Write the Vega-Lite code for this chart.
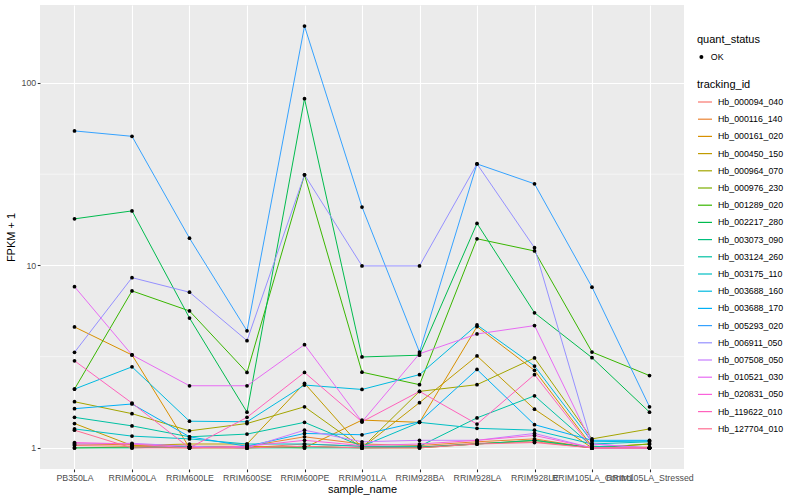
{
"$schema": "https://vega.github.io/schema/vega-lite/v6.json",
"width": 644, "height": 464,
"autosize": {"type": "none"},
"padding": {"left": 40, "top": 5, "right": 116, "bottom": 31},
"background": "white",
"config": {
  "view": {"fill": "#EBEBEB", "stroke": null},
  "font": "Liberation Sans",
  "axis": {"domain": false, "gridColor": "white", "gridWidth": 1.1, "tickColor": "#333333", "tickSize": 2.75, "tickWidth": 1.07, "labelColor": "#4D4D4D", "labelFontSize": 8.8, "labelPadding": 1.5, "titleFontSize": 11, "titleFontWeight": "normal", "titleColor": "black"},
  "legend": {"titleFontSize": 11, "titleFontWeight": "normal", "titleColor": "black", "labelFontSize": 8.8, "labelColor": "black", "padding": 0, "labelOffset": 5}
},
"datasets": {"minor": [{"value": 3.1623}, {"value": 31.623}]},
"data": {"values": [
{"tracking_id":"Hb_000094_040","sample_name":"PB350LA","value":1.03,"quant_status":"OK"},
{"tracking_id":"Hb_000094_040","sample_name":"RRIM600LA","value":1.02,"quant_status":"OK"},
{"tracking_id":"Hb_000094_040","sample_name":"RRIM600LE","value":1.01,"quant_status":"OK"},
{"tracking_id":"Hb_000094_040","sample_name":"RRIM600SE","value":1.0,"quant_status":"OK"},
{"tracking_id":"Hb_000094_040","sample_name":"RRIM600PE","value":1.05,"quant_status":"OK"},
{"tracking_id":"Hb_000094_040","sample_name":"RRIM901LA","value":1.02,"quant_status":"OK"},
{"tracking_id":"Hb_000094_040","sample_name":"RRIM928BA","value":1.01,"quant_status":"OK"},
{"tracking_id":"Hb_000094_040","sample_name":"RRIM928LA","value":1.06,"quant_status":"OK"},
{"tracking_id":"Hb_000094_040","sample_name":"RRIM928LE","value":1.08,"quant_status":"OK"},
{"tracking_id":"Hb_000094_040","sample_name":"RRIM105LA_Control","value":1.0,"quant_status":"OK"},
{"tracking_id":"Hb_000094_040","sample_name":"RRIM105LA_Stressed","value":1.0,"quant_status":"OK"},
{"tracking_id":"Hb_000116_140","sample_name":"PB350LA","value":1.05,"quant_status":"OK"},
{"tracking_id":"Hb_000116_140","sample_name":"RRIM600LA","value":1.04,"quant_status":"OK"},
{"tracking_id":"Hb_000116_140","sample_name":"RRIM600LE","value":1.02,"quant_status":"OK"},
{"tracking_id":"Hb_000116_140","sample_name":"RRIM600SE","value":1.02,"quant_status":"OK"},
{"tracking_id":"Hb_000116_140","sample_name":"RRIM600PE","value":1.15,"quant_status":"OK"},
{"tracking_id":"Hb_000116_140","sample_name":"RRIM901LA","value":1.05,"quant_status":"OK"},
{"tracking_id":"Hb_000116_140","sample_name":"RRIM928BA","value":1.03,"quant_status":"OK"},
{"tracking_id":"Hb_000116_140","sample_name":"RRIM928LA","value":1.08,"quant_status":"OK"},
{"tracking_id":"Hb_000116_140","sample_name":"RRIM928LE","value":1.12,"quant_status":"OK"},
{"tracking_id":"Hb_000116_140","sample_name":"RRIM105LA_Control","value":1.0,"quant_status":"OK"},
{"tracking_id":"Hb_000116_140","sample_name":"RRIM105LA_Stressed","value":1.01,"quant_status":"OK"},
{"tracking_id":"Hb_000161_020","sample_name":"PB350LA","value":4.6,"quant_status":"OK"},
{"tracking_id":"Hb_000161_020","sample_name":"RRIM600LA","value":3.23,"quant_status":"OK"},
{"tracking_id":"Hb_000161_020","sample_name":"RRIM600LE","value":1.0,"quant_status":"OK"},
{"tracking_id":"Hb_000161_020","sample_name":"RRIM600SE","value":1.02,"quant_status":"OK"},
{"tracking_id":"Hb_000161_020","sample_name":"RRIM600PE","value":1.0,"quant_status":"OK"},
{"tracking_id":"Hb_000161_020","sample_name":"RRIM901LA","value":1.42,"quant_status":"OK"},
{"tracking_id":"Hb_000161_020","sample_name":"RRIM928BA","value":1.38,"quant_status":"OK"},
{"tracking_id":"Hb_000161_020","sample_name":"RRIM928LA","value":4.62,"quant_status":"OK"},
{"tracking_id":"Hb_000161_020","sample_name":"RRIM928LE","value":2.66,"quant_status":"OK"},
{"tracking_id":"Hb_000161_020","sample_name":"RRIM105LA_Control","value":1.02,"quant_status":"OK"},
{"tracking_id":"Hb_000161_020","sample_name":"RRIM105LA_Stressed","value":1.0,"quant_status":"OK"},
{"tracking_id":"Hb_000450_150","sample_name":"PB350LA","value":1.36,"quant_status":"OK"},
{"tracking_id":"Hb_000450_150","sample_name":"RRIM600LA","value":1.03,"quant_status":"OK"},
{"tracking_id":"Hb_000450_150","sample_name":"RRIM600LE","value":1.05,"quant_status":"OK"},
{"tracking_id":"Hb_000450_150","sample_name":"RRIM600SE","value":1.05,"quant_status":"OK"},
{"tracking_id":"Hb_000450_150","sample_name":"RRIM600PE","value":2.26,"quant_status":"OK"},
{"tracking_id":"Hb_000450_150","sample_name":"RRIM901LA","value":1.0,"quant_status":"OK"},
{"tracking_id":"Hb_000450_150","sample_name":"RRIM928BA","value":1.77,"quant_status":"OK"},
{"tracking_id":"Hb_000450_150","sample_name":"RRIM928LA","value":3.19,"quant_status":"OK"},
{"tracking_id":"Hb_000450_150","sample_name":"RRIM928LE","value":1.63,"quant_status":"OK"},
{"tracking_id":"Hb_000450_150","sample_name":"RRIM105LA_Control","value":1.0,"quant_status":"OK"},
{"tracking_id":"Hb_000450_150","sample_name":"RRIM105LA_Stressed","value":1.05,"quant_status":"OK"},
{"tracking_id":"Hb_000964_070","sample_name":"PB350LA","value":1.79,"quant_status":"OK"},
{"tracking_id":"Hb_000964_070","sample_name":"RRIM600LA","value":1.54,"quant_status":"OK"},
{"tracking_id":"Hb_000964_070","sample_name":"RRIM600LE","value":1.24,"quant_status":"OK"},
{"tracking_id":"Hb_000964_070","sample_name":"RRIM600SE","value":1.36,"quant_status":"OK"},
{"tracking_id":"Hb_000964_070","sample_name":"RRIM600PE","value":1.68,"quant_status":"OK"},
{"tracking_id":"Hb_000964_070","sample_name":"RRIM901LA","value":1.0,"quant_status":"OK"},
{"tracking_id":"Hb_000964_070","sample_name":"RRIM928BA","value":2.04,"quant_status":"OK"},
{"tracking_id":"Hb_000964_070","sample_name":"RRIM928LA","value":2.22,"quant_status":"OK"},
{"tracking_id":"Hb_000964_070","sample_name":"RRIM928LE","value":3.11,"quant_status":"OK"},
{"tracking_id":"Hb_000964_070","sample_name":"RRIM105LA_Control","value":1.12,"quant_status":"OK"},
{"tracking_id":"Hb_000964_070","sample_name":"RRIM105LA_Stressed","value":1.27,"quant_status":"OK"},
{"tracking_id":"Hb_000976_230","sample_name":"PB350LA","value":1.0,"quant_status":"OK"},
{"tracking_id":"Hb_000976_230","sample_name":"RRIM600LA","value":1.01,"quant_status":"OK"},
{"tracking_id":"Hb_000976_230","sample_name":"RRIM600LE","value":1.0,"quant_status":"OK"},
{"tracking_id":"Hb_000976_230","sample_name":"RRIM600SE","value":1.0,"quant_status":"OK"},
{"tracking_id":"Hb_000976_230","sample_name":"RRIM600PE","value":1.02,"quant_status":"OK"},
{"tracking_id":"Hb_000976_230","sample_name":"RRIM901LA","value":1.0,"quant_status":"OK"},
{"tracking_id":"Hb_000976_230","sample_name":"RRIM928BA","value":1.0,"quant_status":"OK"},
{"tracking_id":"Hb_000976_230","sample_name":"RRIM928LA","value":1.05,"quant_status":"OK"},
{"tracking_id":"Hb_000976_230","sample_name":"RRIM928LE","value":1.1,"quant_status":"OK"},
{"tracking_id":"Hb_000976_230","sample_name":"RRIM105LA_Control","value":1.0,"quant_status":"OK"},
{"tracking_id":"Hb_000976_230","sample_name":"RRIM105LA_Stressed","value":1.05,"quant_status":"OK"},
{"tracking_id":"Hb_001289_020","sample_name":"PB350LA","value":2.1,"quant_status":"OK"},
{"tracking_id":"Hb_001289_020","sample_name":"RRIM600LA","value":7.25,"quant_status":"OK"},
{"tracking_id":"Hb_001289_020","sample_name":"RRIM600LE","value":5.63,"quant_status":"OK"},
{"tracking_id":"Hb_001289_020","sample_name":"RRIM600SE","value":2.59,"quant_status":"OK"},
{"tracking_id":"Hb_001289_020","sample_name":"RRIM600PE","value":31.4,"quant_status":"OK"},
{"tracking_id":"Hb_001289_020","sample_name":"RRIM901LA","value":2.6,"quant_status":"OK"},
{"tracking_id":"Hb_001289_020","sample_name":"RRIM928BA","value":2.22,"quant_status":"OK"},
{"tracking_id":"Hb_001289_020","sample_name":"RRIM928LA","value":14,"quant_status":"OK"},
{"tracking_id":"Hb_001289_020","sample_name":"RRIM928LE","value":12,"quant_status":"OK"},
{"tracking_id":"Hb_001289_020","sample_name":"RRIM105LA_Control","value":3.35,"quant_status":"OK"},
{"tracking_id":"Hb_001289_020","sample_name":"RRIM105LA_Stressed","value":2.49,"quant_status":"OK"},
{"tracking_id":"Hb_002217_280","sample_name":"PB350LA","value":18,"quant_status":"OK"},
{"tracking_id":"Hb_002217_280","sample_name":"RRIM600LA","value":19.9,"quant_status":"OK"},
{"tracking_id":"Hb_002217_280","sample_name":"RRIM600LE","value":5.15,"quant_status":"OK"},
{"tracking_id":"Hb_002217_280","sample_name":"RRIM600SE","value":1.57,"quant_status":"OK"},
{"tracking_id":"Hb_002217_280","sample_name":"RRIM600PE","value":82,"quant_status":"OK"},
{"tracking_id":"Hb_002217_280","sample_name":"RRIM901LA","value":3.15,"quant_status":"OK"},
{"tracking_id":"Hb_002217_280","sample_name":"RRIM928BA","value":3.22,"quant_status":"OK"},
{"tracking_id":"Hb_002217_280","sample_name":"RRIM928LA","value":17,"quant_status":"OK"},
{"tracking_id":"Hb_002217_280","sample_name":"RRIM928LE","value":5.5,"quant_status":"OK"},
{"tracking_id":"Hb_002217_280","sample_name":"RRIM105LA_Control","value":3.12,"quant_status":"OK"},
{"tracking_id":"Hb_002217_280","sample_name":"RRIM105LA_Stressed","value":1.57,"quant_status":"OK"},
{"tracking_id":"Hb_003073_090","sample_name":"PB350LA","value":1.0,"quant_status":"OK"},
{"tracking_id":"Hb_003073_090","sample_name":"RRIM600LA","value":1.0,"quant_status":"OK"},
{"tracking_id":"Hb_003073_090","sample_name":"RRIM600LE","value":1.02,"quant_status":"OK"},
{"tracking_id":"Hb_003073_090","sample_name":"RRIM600SE","value":1.0,"quant_status":"OK"},
{"tracking_id":"Hb_003073_090","sample_name":"RRIM600PE","value":1.0,"quant_status":"OK"},
{"tracking_id":"Hb_003073_090","sample_name":"RRIM901LA","value":1.0,"quant_status":"OK"},
{"tracking_id":"Hb_003073_090","sample_name":"RRIM928BA","value":1.01,"quant_status":"OK"},
{"tracking_id":"Hb_003073_090","sample_name":"RRIM928LA","value":1.05,"quant_status":"OK"},
{"tracking_id":"Hb_003073_090","sample_name":"RRIM928LE","value":1.1,"quant_status":"OK"},
{"tracking_id":"Hb_003073_090","sample_name":"RRIM105LA_Control","value":1.0,"quant_status":"OK"},
{"tracking_id":"Hb_003073_090","sample_name":"RRIM105LA_Stressed","value":1.0,"quant_status":"OK"},
{"tracking_id":"Hb_003124_260","sample_name":"PB350LA","value":1.47,"quant_status":"OK"},
{"tracking_id":"Hb_003124_260","sample_name":"RRIM600LA","value":1.32,"quant_status":"OK"},
{"tracking_id":"Hb_003124_260","sample_name":"RRIM600LE","value":1.15,"quant_status":"OK"},
{"tracking_id":"Hb_003124_260","sample_name":"RRIM600SE","value":1.19,"quant_status":"OK"},
{"tracking_id":"Hb_003124_260","sample_name":"RRIM600PE","value":1.38,"quant_status":"OK"},
{"tracking_id":"Hb_003124_260","sample_name":"RRIM901LA","value":1.02,"quant_status":"OK"},
{"tracking_id":"Hb_003124_260","sample_name":"RRIM928BA","value":1.02,"quant_status":"OK"},
{"tracking_id":"Hb_003124_260","sample_name":"RRIM928LA","value":1.46,"quant_status":"OK"},
{"tracking_id":"Hb_003124_260","sample_name":"RRIM928LE","value":1.93,"quant_status":"OK"},
{"tracking_id":"Hb_003124_260","sample_name":"RRIM105LA_Control","value":1.02,"quant_status":"OK"},
{"tracking_id":"Hb_003124_260","sample_name":"RRIM105LA_Stressed","value":1.0,"quant_status":"OK"},
{"tracking_id":"Hb_003175_110","sample_name":"PB350LA","value":1.27,"quant_status":"OK"},
{"tracking_id":"Hb_003175_110","sample_name":"RRIM600LA","value":1.16,"quant_status":"OK"},
{"tracking_id":"Hb_003175_110","sample_name":"RRIM600LE","value":1.12,"quant_status":"OK"},
{"tracking_id":"Hb_003175_110","sample_name":"RRIM600SE","value":1.05,"quant_status":"OK"},
{"tracking_id":"Hb_003175_110","sample_name":"RRIM600PE","value":1.05,"quant_status":"OK"},
{"tracking_id":"Hb_003175_110","sample_name":"RRIM901LA","value":1.02,"quant_status":"OK"},
{"tracking_id":"Hb_003175_110","sample_name":"RRIM928BA","value":1.38,"quant_status":"OK"},
{"tracking_id":"Hb_003175_110","sample_name":"RRIM928LA","value":1.28,"quant_status":"OK"},
{"tracking_id":"Hb_003175_110","sample_name":"RRIM928LE","value":1.25,"quant_status":"OK"},
{"tracking_id":"Hb_003175_110","sample_name":"RRIM105LA_Control","value":1.05,"quant_status":"OK"},
{"tracking_id":"Hb_003175_110","sample_name":"RRIM105LA_Stressed","value":1.08,"quant_status":"OK"},
{"tracking_id":"Hb_003688_160","sample_name":"PB350LA","value":2.1,"quant_status":"OK"},
{"tracking_id":"Hb_003688_160","sample_name":"RRIM600LA","value":2.78,"quant_status":"OK"},
{"tracking_id":"Hb_003688_160","sample_name":"RRIM600LE","value":1.4,"quant_status":"OK"},
{"tracking_id":"Hb_003688_160","sample_name":"RRIM600SE","value":1.39,"quant_status":"OK"},
{"tracking_id":"Hb_003688_160","sample_name":"RRIM600PE","value":2.21,"quant_status":"OK"},
{"tracking_id":"Hb_003688_160","sample_name":"RRIM901LA","value":2.09,"quant_status":"OK"},
{"tracking_id":"Hb_003688_160","sample_name":"RRIM928BA","value":2.52,"quant_status":"OK"},
{"tracking_id":"Hb_003688_160","sample_name":"RRIM928LA","value":4.72,"quant_status":"OK"},
{"tracking_id":"Hb_003688_160","sample_name":"RRIM928LE","value":2.81,"quant_status":"OK"},
{"tracking_id":"Hb_003688_160","sample_name":"RRIM105LA_Control","value":1.08,"quant_status":"OK"},
{"tracking_id":"Hb_003688_160","sample_name":"RRIM105LA_Stressed","value":1.09,"quant_status":"OK"},
{"tracking_id":"Hb_003688_170","sample_name":"PB350LA","value":1.64,"quant_status":"OK"},
{"tracking_id":"Hb_003688_170","sample_name":"RRIM600LA","value":1.74,"quant_status":"OK"},
{"tracking_id":"Hb_003688_170","sample_name":"RRIM600LE","value":1.15,"quant_status":"OK"},
{"tracking_id":"Hb_003688_170","sample_name":"RRIM600SE","value":1.02,"quant_status":"OK"},
{"tracking_id":"Hb_003688_170","sample_name":"RRIM600PE","value":1.2,"quant_status":"OK"},
{"tracking_id":"Hb_003688_170","sample_name":"RRIM901LA","value":1.18,"quant_status":"OK"},
{"tracking_id":"Hb_003688_170","sample_name":"RRIM928BA","value":1.39,"quant_status":"OK"},
{"tracking_id":"Hb_003688_170","sample_name":"RRIM928LA","value":2.69,"quant_status":"OK"},
{"tracking_id":"Hb_003688_170","sample_name":"RRIM928LE","value":1.34,"quant_status":"OK"},
{"tracking_id":"Hb_003688_170","sample_name":"RRIM105LA_Control","value":1.1,"quant_status":"OK"},
{"tracking_id":"Hb_003688_170","sample_name":"RRIM105LA_Stressed","value":1.1,"quant_status":"OK"},
{"tracking_id":"Hb_005293_020","sample_name":"PB350LA","value":54.6,"quant_status":"OK"},
{"tracking_id":"Hb_005293_020","sample_name":"RRIM600LA","value":51,"quant_status":"OK"},
{"tracking_id":"Hb_005293_020","sample_name":"RRIM600LE","value":14.1,"quant_status":"OK"},
{"tracking_id":"Hb_005293_020","sample_name":"RRIM600SE","value":4.38,"quant_status":"OK"},
{"tracking_id":"Hb_005293_020","sample_name":"RRIM600PE","value":205,"quant_status":"OK"},
{"tracking_id":"Hb_005293_020","sample_name":"RRIM901LA","value":20.9,"quant_status":"OK"},
{"tracking_id":"Hb_005293_020","sample_name":"RRIM928BA","value":3.35,"quant_status":"OK"},
{"tracking_id":"Hb_005293_020","sample_name":"RRIM928LA","value":36,"quant_status":"OK"},
{"tracking_id":"Hb_005293_020","sample_name":"RRIM928LE","value":28,"quant_status":"OK"},
{"tracking_id":"Hb_005293_020","sample_name":"RRIM105LA_Control","value":7.6,"quant_status":"OK"},
{"tracking_id":"Hb_005293_020","sample_name":"RRIM105LA_Stressed","value":1.68,"quant_status":"OK"},
{"tracking_id":"Hb_006911_050","sample_name":"PB350LA","value":3.34,"quant_status":"OK"},
{"tracking_id":"Hb_006911_050","sample_name":"RRIM600LA","value":8.57,"quant_status":"OK"},
{"tracking_id":"Hb_006911_050","sample_name":"RRIM600LE","value":7.13,"quant_status":"OK"},
{"tracking_id":"Hb_006911_050","sample_name":"RRIM600SE","value":3.87,"quant_status":"OK"},
{"tracking_id":"Hb_006911_050","sample_name":"RRIM600PE","value":31.4,"quant_status":"OK"},
{"tracking_id":"Hb_006911_050","sample_name":"RRIM901LA","value":9.94,"quant_status":"OK"},
{"tracking_id":"Hb_006911_050","sample_name":"RRIM928BA","value":9.94,"quant_status":"OK"},
{"tracking_id":"Hb_006911_050","sample_name":"RRIM928LA","value":36,"quant_status":"OK"},
{"tracking_id":"Hb_006911_050","sample_name":"RRIM928LE","value":12.5,"quant_status":"OK"},
{"tracking_id":"Hb_006911_050","sample_name":"RRIM105LA_Control","value":1.05,"quant_status":"OK"},
{"tracking_id":"Hb_006911_050","sample_name":"RRIM105LA_Stressed","value":1.0,"quant_status":"OK"},
{"tracking_id":"Hb_007508_050","sample_name":"PB350LA","value":1.05,"quant_status":"OK"},
{"tracking_id":"Hb_007508_050","sample_name":"RRIM600LA","value":1.06,"quant_status":"OK"},
{"tracking_id":"Hb_007508_050","sample_name":"RRIM600LE","value":1.02,"quant_status":"OK"},
{"tracking_id":"Hb_007508_050","sample_name":"RRIM600SE","value":1.0,"quant_status":"OK"},
{"tracking_id":"Hb_007508_050","sample_name":"RRIM600PE","value":1.25,"quant_status":"OK"},
{"tracking_id":"Hb_007508_050","sample_name":"RRIM901LA","value":1.08,"quant_status":"OK"},
{"tracking_id":"Hb_007508_050","sample_name":"RRIM928BA","value":1.1,"quant_status":"OK"},
{"tracking_id":"Hb_007508_050","sample_name":"RRIM928LA","value":1.1,"quant_status":"OK"},
{"tracking_id":"Hb_007508_050","sample_name":"RRIM928LE","value":1.2,"quant_status":"OK"},
{"tracking_id":"Hb_007508_050","sample_name":"RRIM105LA_Control","value":1.0,"quant_status":"OK"},
{"tracking_id":"Hb_007508_050","sample_name":"RRIM105LA_Stressed","value":1.0,"quant_status":"OK"},
{"tracking_id":"Hb_010521_030","sample_name":"PB350LA","value":7.65,"quant_status":"OK"},
{"tracking_id":"Hb_010521_030","sample_name":"RRIM600LA","value":3.23,"quant_status":"OK"},
{"tracking_id":"Hb_010521_030","sample_name":"RRIM600LE","value":2.19,"quant_status":"OK"},
{"tracking_id":"Hb_010521_030","sample_name":"RRIM600SE","value":2.19,"quant_status":"OK"},
{"tracking_id":"Hb_010521_030","sample_name":"RRIM600PE","value":3.68,"quant_status":"OK"},
{"tracking_id":"Hb_010521_030","sample_name":"RRIM901LA","value":1.39,"quant_status":"OK"},
{"tracking_id":"Hb_010521_030","sample_name":"RRIM928BA","value":3.28,"quant_status":"OK"},
{"tracking_id":"Hb_010521_030","sample_name":"RRIM928LA","value":4.21,"quant_status":"OK"},
{"tracking_id":"Hb_010521_030","sample_name":"RRIM928LE","value":4.68,"quant_status":"OK"},
{"tracking_id":"Hb_010521_030","sample_name":"RRIM105LA_Control","value":1.05,"quant_status":"OK"},
{"tracking_id":"Hb_010521_030","sample_name":"RRIM105LA_Stressed","value":1.0,"quant_status":"OK"},
{"tracking_id":"Hb_020831_050","sample_name":"PB350LA","value":1.07,"quant_status":"OK"},
{"tracking_id":"Hb_020831_050","sample_name":"RRIM600LA","value":1.05,"quant_status":"OK"},
{"tracking_id":"Hb_020831_050","sample_name":"RRIM600LE","value":1.0,"quant_status":"OK"},
{"tracking_id":"Hb_020831_050","sample_name":"RRIM600SE","value":1.02,"quant_status":"OK"},
{"tracking_id":"Hb_020831_050","sample_name":"RRIM600PE","value":1.1,"quant_status":"OK"},
{"tracking_id":"Hb_020831_050","sample_name":"RRIM901LA","value":1.03,"quant_status":"OK"},
{"tracking_id":"Hb_020831_050","sample_name":"RRIM928BA","value":1.05,"quant_status":"OK"},
{"tracking_id":"Hb_020831_050","sample_name":"RRIM928LA","value":1.1,"quant_status":"OK"},
{"tracking_id":"Hb_020831_050","sample_name":"RRIM928LE","value":1.17,"quant_status":"OK"},
{"tracking_id":"Hb_020831_050","sample_name":"RRIM105LA_Control","value":1.0,"quant_status":"OK"},
{"tracking_id":"Hb_020831_050","sample_name":"RRIM105LA_Stressed","value":1.0,"quant_status":"OK"},
{"tracking_id":"Hb_119622_010","sample_name":"PB350LA","value":3.0,"quant_status":"OK"},
{"tracking_id":"Hb_119622_010","sample_name":"RRIM600LA","value":1.76,"quant_status":"OK"},
{"tracking_id":"Hb_119622_010","sample_name":"RRIM600LE","value":1.0,"quant_status":"OK"},
{"tracking_id":"Hb_119622_010","sample_name":"RRIM600SE","value":1.47,"quant_status":"OK"},
{"tracking_id":"Hb_119622_010","sample_name":"RRIM600PE","value":2.59,"quant_status":"OK"},
{"tracking_id":"Hb_119622_010","sample_name":"RRIM901LA","value":1.39,"quant_status":"OK"},
{"tracking_id":"Hb_119622_010","sample_name":"RRIM928BA","value":2.04,"quant_status":"OK"},
{"tracking_id":"Hb_119622_010","sample_name":"RRIM928LA","value":1.35,"quant_status":"OK"},
{"tracking_id":"Hb_119622_010","sample_name":"RRIM928LE","value":2.52,"quant_status":"OK"},
{"tracking_id":"Hb_119622_010","sample_name":"RRIM105LA_Control","value":1.0,"quant_status":"OK"},
{"tracking_id":"Hb_119622_010","sample_name":"RRIM105LA_Stressed","value":1.0,"quant_status":"OK"},
{"tracking_id":"Hb_127704_010","sample_name":"PB350LA","value":1.25,"quant_status":"OK"},
{"tracking_id":"Hb_127704_010","sample_name":"RRIM600LA","value":1.0,"quant_status":"OK"},
{"tracking_id":"Hb_127704_010","sample_name":"RRIM600LE","value":1.0,"quant_status":"OK"},
{"tracking_id":"Hb_127704_010","sample_name":"RRIM600SE","value":1.0,"quant_status":"OK"},
{"tracking_id":"Hb_127704_010","sample_name":"RRIM600PE","value":1.02,"quant_status":"OK"},
{"tracking_id":"Hb_127704_010","sample_name":"RRIM901LA","value":1.0,"quant_status":"OK"},
{"tracking_id":"Hb_127704_010","sample_name":"RRIM928BA","value":1.0,"quant_status":"OK"},
{"tracking_id":"Hb_127704_010","sample_name":"RRIM928LA","value":1.05,"quant_status":"OK"},
{"tracking_id":"Hb_127704_010","sample_name":"RRIM928LE","value":1.07,"quant_status":"OK"},
{"tracking_id":"Hb_127704_010","sample_name":"RRIM105LA_Control","value":1.0,"quant_status":"OK"},
{"tracking_id":"Hb_127704_010","sample_name":"RRIM105LA_Stressed","value":1.0,"quant_status":"OK"}
]},
"layer": [
  {
    "data": {"name": "minor"},
    "mark": {"type": "rule", "color": "white", "strokeWidth": 0.55},
    "encoding": {
      "y": {"field": "value", "type": "quantitative", "scale": {"type": "log", "domain": [0.766, 267.5], "nice": false, "zero": false}}
    }
  },
  {
    "mark": {"type": "line", "strokeWidth": 1},
    "encoding": {
      "x": {"field": "sample_name", "type": "nominal", "sort": ["PB350LA","RRIM600LA","RRIM600LE","RRIM600SE","RRIM600PE","RRIM901LA","RRIM928BA","RRIM928LA","RRIM928LE","RRIM105LA_Control","RRIM105LA_Stressed"], "scale": {"type": "point", "padding": 0.6}, "axis": {"labelAngle": 0, "title": "sample_name", "titlePadding": 1, "grid": true, "labelOverlap": false}},
      "y": {"field": "value", "type": "quantitative", "scale": {"type": "log", "domain": [0.766, 267.5], "nice": false, "zero": false}, "axis": {"title": "FPKM + 1", "values": [1, 10, 100], "format": "d", "titlePadding": 5, "grid": true}},
      "color": {"field": "tracking_id", "type": "nominal",
        "scale": {"range": ["#F8766D","#EA8331","#D89000","#C09B00","#A3A500","#7CAE00","#39B600","#00BB4E","#00BF7D","#00C1A3","#00BFC4","#00BAE0","#00B0F6","#35A2FF","#9590FF","#C77CFF","#E76BF3","#FA62DB","#FF62BC","#FF6C91"]},
        "legend": {"orient": "none", "legendX": 657, "legendY": 74, "title": "tracking_id", "symbolType": "stroke", "symbolSize": 196, "symbolStrokeWidth": 1.2, "rowPadding": 4.2, "titlePadding": 4}}
    }
  },
  {
    "mark": {"type": "point", "filled": true, "color": "black", "size": 14, "opacity": 1},
    "encoding": {
      "x": {"field": "sample_name", "type": "nominal", "sort": ["PB350LA","RRIM600LA","RRIM600LE","RRIM600SE","RRIM600PE","RRIM901LA","RRIM928BA","RRIM928LA","RRIM928LE","RRIM105LA_Control","RRIM105LA_Stressed"]},
      "y": {"field": "value", "type": "quantitative"},
      "shape": {"field": "quant_status", "type": "nominal", "scale": {"range": ["circle"]},
        "legend": {"orient": "none", "legendX": 657, "legendY": 29, "title": "quant_status", "symbolSize": 16, "symbolFillColor": "black", "symbolStrokeColor": "black", "titlePadding": 7.5}}
    }
  }
]
}
